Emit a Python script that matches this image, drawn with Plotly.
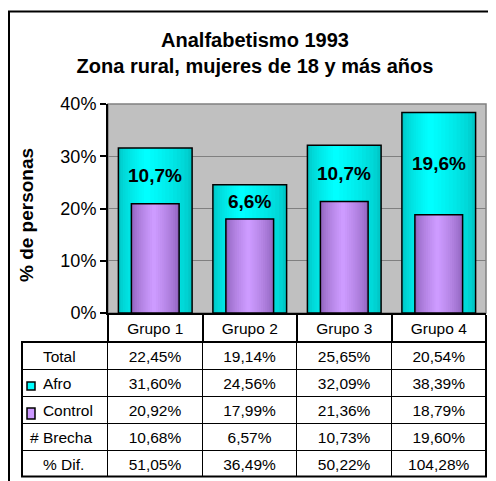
import plotly.graph_objects as go

# ---------------- data ----------------
grupos = ["Grupo 1", "Grupo 2", "Grupo 3", "Grupo 4"]
total = [22.45, 19.14, 25.65, 20.54]
afro = [31.60, 24.56, 32.09, 38.39]
control = [20.92, 17.99, 21.36, 18.79]
brecha = [10.68, 6.57, 10.73, 19.60]
dif = [51.05, 36.49, 50.22, 104.28]
row_labels = ["Total", "Afro", "Control", "Brecha", "% Dif."]
row_prefix = ["", "", "", "#", ""]
title_lines = ["Analfabetismo 1993", "Zona rural, mujeres de 18 y más años"]
y_title = "% de personas"

# ---------------- helpers ----------------
OFF = 8  # page body margin
W, H = 496 - OFF, 481 - OFF
FONT = "Liberation Sans, Arial, sans-serif"


def px_x(v):
    return (v - OFF) / W


def px_y(v):
    return 1 - (v - OFF) / H


def fmt(v, d=2):
    return f"{v:.{d}f}".replace(".", ",") + "%"


def mix(c1, c2, t):
    return "rgb(%d,%d,%d)" % tuple(round(a + (b - a) * t) for a, b in zip(c1, c2))


def row_label(prefix, label):
    if prefix:
        return prefix + "\u00a0" + label
    return "\u00a0\u00a0\u00a0" + label


fig = go.Figure()


def gradient_bar(values, width, edge, center, peak, n=12):
    for k in range(n):
        f = 1 - k / n
        a = peak - peak * f
        b = peak + (1 - peak) * f
        t = (k / (n - 1)) ** 0.7
        fig.add_trace(go.Bar(
            x=grupos, y=values, width=(b - a) * width, offset=-width / 2 + a * width,
            marker=dict(color=mix(edge, center, t), line=dict(width=0)),
            hoverinfo="skip", showlegend=False))
    fig.add_trace(go.Bar(
        x=grupos, y=values, width=width, offset=-width / 2,
        marker=dict(color="rgba(0,0,0,0)", line=dict(color="black", width=1.5)),
        hoverinfo="skip", showlegend=False))


gradient_bar(afro, 0.78, (0, 200, 200), (0, 255, 255), 0.38)
gradient_bar(control, 0.505, (145, 100, 190), (205, 155, 255), 0.47)

# brecha labels inside the Afro bars
for g, a, c, b in zip(grupos, afro, control, brecha):
    fig.add_annotation(x=g, y=(a + c) / 2, xref="x", yref="y", text="<b>" + fmt(b, 1) + "</b>",
                       showarrow=False, font=dict(family=FONT, size=19, color="black"))

# ---------------- data table ----------------
labels = [row_label(p, r) for p, r in zip(row_prefix, row_labels)]
header_vals = [labels[0]] + [fmt(v) for v in total]
cell_cols = [labels[1:]]
for j in range(len(grupos)):
    cell_cols.append([fmt(afro[j]), fmt(control[j]), fmt(brecha[j]), fmt(dif[j])])

fig.add_trace(go.Table(
    domain=dict(x=[px_x(22), px_x(486)], y=[px_y(477), px_y(342)]),
    columnwidth=[86, 95, 95, 95, 95],
    header=dict(values=header_vals, height=27, align=["left"] + ["center"] * 4,
                fill_color="white", line=dict(color="black", width=1),
                font=dict(family=FONT, size=15.5, color="black")),
    cells=dict(values=cell_cols, height=27, align=["left"] + ["center"] * 4,
               fill_color="white", line=dict(color="black", width=1),
               font=dict(family=FONT, size=15.5, color="black")),
))

# legend keys in the table
fig.add_shape(type="rect", xref="paper", yref="paper", x0=px_x(27), x1=px_x(35),
              y0=px_y(390), y1=px_y(382), fillcolor="#00FFFF", line=dict(color="black", width=1.5))
fig.add_shape(type="rect", xref="paper", yref="paper", x0=px_x(27), x1=px_x(35),
              y0=px_y(419), y1=px_y(408), fillcolor="#CC99FF", line=dict(color="black", width=1.5))

# table outer border
fig.add_shape(type="rect", xref="paper", yref="paper", x0=px_x(22), x1=px_x(486),
              y0=px_y(476.5), y1=px_y(342), line=dict(color="black", width=2))

# plot-area border (grey)
fig.add_shape(type="rect", xref="x domain", yref="y domain", x0=0, x1=1, y0=0, y1=1,
              line=dict(color="#808080", width=1.5), layer="below")

# outer chart frame
fig.add_shape(type="rect", xref="paper", yref="paper", x0=px_x(9), x1=1.1,
              y0=-0.1, y1=px_y(11.5), line=dict(color="black", width=2))

# y axis title
fig.add_annotation(x=px_x(26), y=px_y(215), xref="paper", yref="paper",
                   text="<b>" + y_title + "</b>", textangle=-90, showarrow=False,
                   xanchor="center", yanchor="middle",
                   font=dict(family=FONT, size=19, color="black"))

fig.update_layout(
    width=W, height=H,
    margin=dict(l=0, r=0, t=0, b=0),
    paper_bgcolor="white", plot_bgcolor="#C0C0C0",
    barmode="overlay", showlegend=False,
    title=dict(text="<b>" + title_lines[0] + "<br>" + title_lines[1] + "</b>",
               x=px_x(255), xanchor="center", y=px_y(47), yanchor="middle",
               yref="container", font=dict(family=FONT, size=20, color="black")),
    xaxis=dict(domain=[px_x(108), px_x(486)], type="category", range=[-0.5, 3.5],
               tickson="boundaries", ticks="outside", ticklen=29, tickwidth=2,
               tickcolor="black", showline=True, linecolor="black", linewidth=2,
               showgrid=False, automargin=False,
               tickfont=dict(family=FONT, size=15.5, color="black"), fixedrange=True),
    yaxis=dict(domain=[px_y(313), px_y(104)], range=[0, 40], dtick=10, ticksuffix="%",
               ticks="outside", ticklen=6, tickwidth=1.5, tickcolor="black",
               showline=True, linecolor="black", linewidth=2, zeroline=False,
               gridcolor="#808080", gridwidth=1, automargin=False,
               tickfont=dict(family=FONT, size=18, color="black"), fixedrange=True),
)

fig.write_html("out.html")
